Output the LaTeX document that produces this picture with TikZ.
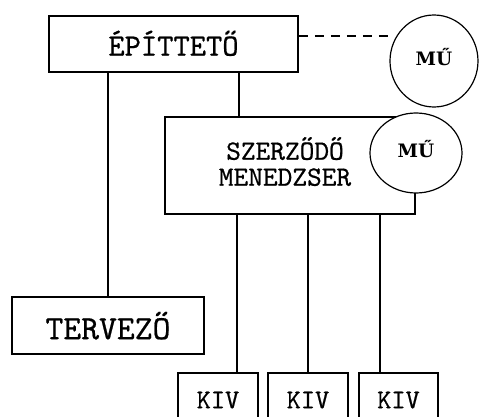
\documentclass[tikz,border=0pt]{standalone}
\usepackage{fontspec}
\newfontfamily\kfont{lmmono10-regular.otf}[FakeBold=0.6]
\newfontfamily\mufont{DejaVu Serif}
\usetikzlibrary{shapes.geometric}
\begin{document}
\begin{tikzpicture}[x=1pt,y=-1pt,
  box/.style={draw,line width=1.5pt,fill=white,inner sep=0pt},
  oval/.style={draw,ellipse,line width=1.2pt,fill=white,inner sep=0pt,font=\mufont\bfseries\fontsize{18.5}{18.5}\selectfont},
  conn/.style={line width=1.5pt},
  dash line/.style={line width=1.3pt,dash pattern=on 9pt off 7pt}]
\fill[white] (0,0) rectangle (480,417);
\useasboundingbox (0,0) rectangle (480,417);
\clip (0,0) rectangle (480,417);
\node[box,minimum width=249pt,minimum height=56pt,font=\kfont\fontsize{31}{31}\selectfont] (ep) at (173.5,44) {\raisebox{2pt}{ÉPÍTTETŐ}};
\node[oval,minimum width=88pt,minimum height=92pt] (mu1) at (434,61) {\raisebox{9pt}{MŰ}};
\node[box,minimum width=250pt,minimum height=97pt,align=center,font=\kfont\fontsize{28}{28}\selectfont] (szm) at (290,165.5) {\raisebox{12pt}{\begin{tabular}{@{}c@{}}SZERZŐDŐ\\[-2pt]MENEDZSER\end{tabular}}\hspace*{10pt}};
\node[oval,minimum width=92pt,minimum height=80pt] (mu2) at (416,153) {\raisebox{8pt}{MŰ}};
\node[box,minimum width=192pt,minimum height=57pt,font=\kfont\fontsize{34}{34}\selectfont] (terv) at (108,325.5) {TERVEZŐ};
\node[box,minimum width=80pt,minimum height=60pt,font=\kfont\fontsize{27}{27}\selectfont] (k1) at (218,403) {\raisebox{6pt}{KIV}};
\node[box,minimum width=80pt,minimum height=60pt,font=\kfont\fontsize{27}{27}\selectfont] (k2) at (308,403) {\raisebox{6pt}{KIV}};
\node[box,minimum width=79pt,minimum height=60pt,font=\kfont\fontsize{27}{27}\selectfont] (k3) at (398.5,403) {\raisebox{6pt}{KIV}};
\draw[conn] (ep.south -| terv.north) -- (terv.north);
\draw[conn] ([xshift=65.5pt]ep.south) -- ([xshift=65.5pt]ep.south |- szm.north);
\draw[conn] ([xshift=19pt]k1.north) -- ([xshift=19pt]k1.north |- szm.south);
\draw[conn] (k2.north) -- (k2.north |- szm.south);
\draw[conn] ([xshift=-18.5pt]k3.north) -- ([xshift=-18.5pt]k3.north |- szm.south);
\draw[dash line] ([yshift=8pt]ep.east) -- ([yshift=8pt]ep.east -| mu1.west);
\end{tikzpicture}
\end{document}
